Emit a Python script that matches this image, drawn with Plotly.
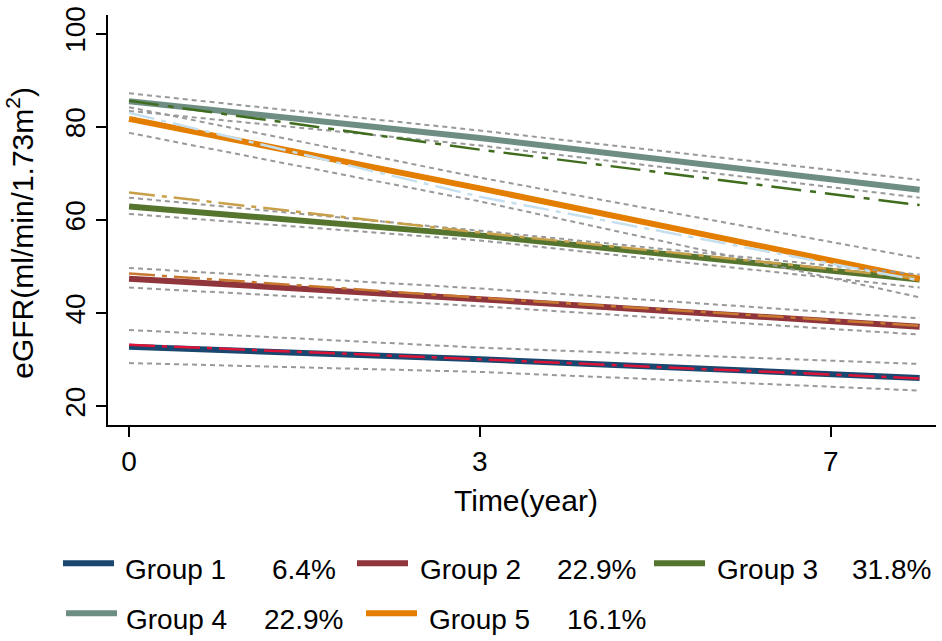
import plotly.graph_objects as go

# ---------------- data ----------------
time_pos = [0, 3, 6.76]          # x positions of the trajectory points
x_tick_vals = [0, 3, 6]
x_tick_text = ["0", "3", "7"]
y_tick_vals = [20, 40, 60, 80, 100]

group_names = ["Group 1", "Group 2", "Group 3", "Group 4", "Group 5"]
group_pcts = ["6.4%", "22.9%", "31.8%", "22.9%", "16.1%"]

# fitted trajectories
g1_fit = [32.8, 30.1, 26.1]
g2_fit = [47.4, 43.0, 37.1]
g3_fit = [62.9, 56.7, 47.2]
g4_fit = [85.5, 77.6, 66.5]
g5_fit = [81.7, 66.8, 47.4]

# 95% CI bounds
g1_upper = [36.4, 32.6, 29.1]
g1_lower = [29.3, 27.4, 23.4]
g2_upper = [49.7, 45.3, 38.9]
g2_lower = [45.5, 41.5, 35.4]
g3_upper = [64.8, 57.7, 48.3]
g3_lower = [61.3, 55.6, 45.5]
g4_upper = [87.2, 79.2, 68.6]
g4_lower = [83.4, 76.0, 64.8]
g5_upper = [84.2, 69.1, 51.8]
g5_lower = [78.7, 64.0, 43.4]

# observed mean trajectories
g1_obs = [33.2, 30.1, 26.0]
g2_obs = [48.5, 43.3, 37.3]
g3_obs = [65.9, 57.3, 47.5]
g4_obs = [85.6, 75.1, 63.2]
g5_obs = [83.0, 65.0, 47.0]

fits = [g1_fit, g2_fit, g3_fit, g4_fit, g5_fit]
uppers = [g1_upper, g2_upper, g3_upper, g4_upper, g5_upper]
lowers = [g1_lower, g2_lower, g3_lower, g4_lower, g5_lower]
obs = [g1_obs, g2_obs, g3_obs, g4_obs, g5_obs]

fit_colors = ["#1a476f", "#90353b", "#55752f", "#6e8e84", "#e37e00"]
obs_colors = ["#dc1438", "#c8782f", "#c9a04a", "#3f6d1d", "#c6dfee"]
obs_dash = ["26px,7px,5px,7px", "26px,7px,5px,7px", "26px,7px,5px,7px",
            "30px,9px,6px,9px", "26px,7px,5px,7px"]

FONT = "Liberation Sans, Arial, sans-serif"

fig = go.Figure()

for i in range(5):
    fig.add_trace(go.Scatter(x=time_pos, y=fits[i], mode="lines",
                             line=dict(color=fit_colors[i], width=6),
                             showlegend=False, hoverinfo="skip"))
for i in range(5):
    for b in (uppers[i], lowers[i]):
        fig.add_trace(go.Scatter(x=time_pos, y=b, mode="lines",
                                 line=dict(color="#999999", width=2, dash="5px,4px"),
                                 showlegend=False, hoverinfo="skip"))
for i in range(5):
    fig.add_trace(go.Scatter(x=time_pos, y=obs[i], mode="lines",
                             line=dict(color=obs_colors[i], width=2.5, dash=obs_dash[i]),
                             showlegend=False, hoverinfo="skip"))

# ---------------- layout ----------------
W, H = 942, 641
ML, MR, MT, MB = 108, 6, 7, 216
PW, PH = W - ML - MR, H - MT - MB


def px_x(px):
    return (px - ML) / PW


def px_y(py):
    return (H - MB - py) / PH


shapes = []
annotations = []

# custom legend
sym_x0 = [63, 357, 654, 66, 366]
lab_x = [123, 418, 715, 124, 427]
pct_x = [270, 555, 850, 262, 565]
row_y = [566, 566, 566, 617, 617]
for i in range(5):
    shapes.append(dict(type="line", xref="paper", yref="paper",
                       x0=px_x(sym_x0[i]), x1=px_x(sym_x0[i] + 51),
                       y0=px_y(row_y[i]), y1=px_y(row_y[i]),
                       line=dict(color=fit_colors[i], width=6)))
    for txt, xx in ((group_names[i], lab_x[i]), (group_pcts[i], pct_x[i])):
        annotations.append(dict(text=txt, xref="paper", yref="paper",
                                x=px_x(xx), y=px_y(row_y[i] + 6),
                                xanchor="left", yanchor="middle", showarrow=False,
                                font=dict(family=FONT, size=28, color="black")))

# axis titles
annotations.append(dict(text="Time(year)", xref="paper", yref="paper",
                        x=px_x(526), y=px_y(502), xanchor="center", yanchor="middle",
                        showarrow=False, font=dict(family=FONT, size=30, color="black")))
annotations.append(dict(text="eGFR(ml/min/1.73m<sup>2</sup>)", xref="paper", yref="paper",
                        x=px_x(20), y=px_y(229), xanchor="center", yanchor="middle",
                        textangle=-90, showarrow=False,
                        font=dict(family=FONT, size=30, color="black")))

fig.update_layout(
    width=W, height=H, autosize=False,
    margin=dict(l=ML, r=MR, t=MT, b=MB, pad=0),
    paper_bgcolor="white", plot_bgcolor="white",
    showlegend=False,
    shapes=shapes, annotations=annotations,
    font=dict(family=FONT, size=28, color="black"),
)
fig.update_xaxes(range=[-0.18, 6.9], showgrid=False, zeroline=False,
                 showline=True, linecolor="black", linewidth=2,
                 ticks="outside", ticklen=10, tickwidth=2, tickcolor="black",
                 tickvals=x_tick_vals, ticktext=x_tick_text,
                 tickfont=dict(family=FONT, size=28, color="black"))
fig.update_yaxes(range=[16, 104], showgrid=False, zeroline=False,
                 showline=True, linecolor="black", linewidth=2,
                 ticks="outside", ticklen=10, tickwidth=2, tickcolor="black",
                 tickvals=y_tick_vals, tickangle=-90, ticklabeloverflow="allow",
                 tickfont=dict(family=FONT, size=28, color="black"))

fig.write_html("out.html", config={"displayModeBar": False},
               post_script="document.body.style.margin='0';document.body.style.overflow='hidden';")
